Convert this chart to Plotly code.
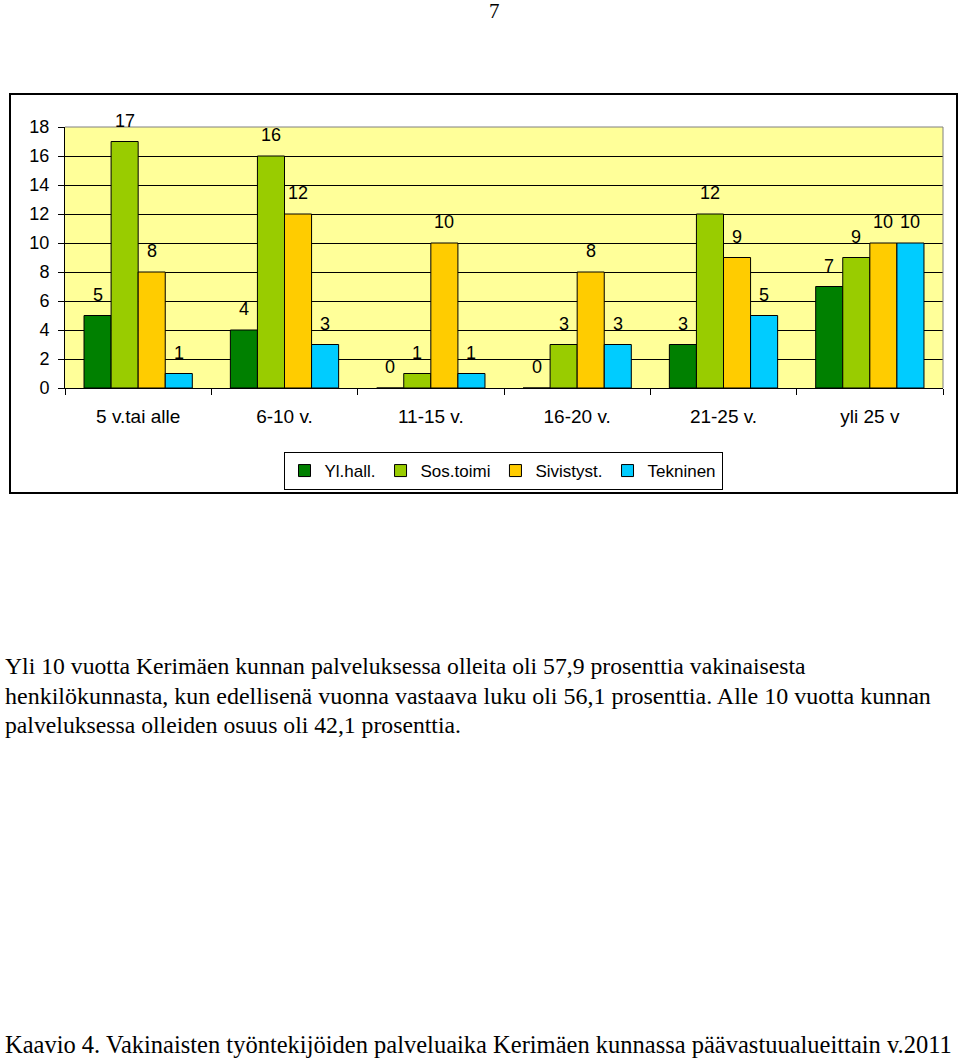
import plotly.graph_objects as go

# data
categories = ["5 v.tai alle", "6-10 v.", "11-15 v.", "16-20 v.", "21-25 v.", "yli 25 v"]
yl_hall = [5, 4, 0, 0, 3, 7]
sos_toimi = [17, 16, 1, 3, 12, 9]
sivistyst = [8, 12, 10, 8, 9, 10]
tekninen = [1, 3, 1, 3, 5, 10]

series_names = ["Yl.hall.", "Sos.toimi", "Sivistyst.", "Tekninen"]
series_values = [yl_hall, sos_toimi, sivistyst, tekninen]
series_colors = ["#008000", "#99CC00", "#FFCC00", "#00CCFF"]

paragraph = [
    "Yli 10 vuotta Kerimäen kunnan palveluksessa olleita oli 57,9 prosenttia vakinaisesta",
    "henkilökunnasta, kun edellisenä vuonna vastaava luku oli 56,1 prosenttia. Alle 10 vuotta kunnan",
    "palveluksessa olleiden osuus oli 42,1 prosenttia.",
]
caption = "Kaavio 4. Vakinaisten työntekijöiden palveluaika Kerimäen kunnassa päävastuualueittain v.2011"

# page geometry in pixels (body margin is removed below)
W, H = 960, 1058
L, R, T, B = 65, 943, 127, 388
BARGAP = 0.26


def px_x(x):
    return (x - L) / (R - L)


def px_y(y):
    return (B - y) / (B - T)


chart_font = "Liberation Sans, Arial, sans-serif"
text_font = "Liberation Serif, Times New Roman, serif"

fig = go.Figure()
for name, vals, col in zip(series_names, series_values, series_colors):
    fig.add_trace(go.Bar(
        name=name, x=categories, y=vals,
        marker=dict(color=col, line=dict(color="black", width=1)),
    ))

# value labels a bit above each bar (Excel style)
bar_w = (R - L) / len(categories) * (1 - BARGAP) / len(series_names)
for i, vals in enumerate(series_values):
    for cat, v in zip(categories, vals):
        fig.add_annotation(
            x=cat, y=v, xref="x", yref="y", text=str(v), showarrow=False,
            xshift=(i - (len(series_names) - 1) / 2) * bar_w, yshift=9,
            yanchor="bottom", font=dict(family=chart_font, size=18, color="black"),
        )

fig.update_layout(
    width=W, height=H,
    margin=dict(l=L, r=W - R, t=T, b=H - B),
    paper_bgcolor="white", plot_bgcolor="#FFFF99",
    barmode="group", bargap=BARGAP, bargroupgap=0,
    font=dict(family=chart_font, size=18, color="black"),
    showlegend=True,
    legend=dict(
        orientation="h", x=px_x(503), y=px_y(452), xanchor="center", yanchor="top",
        bordercolor="black", borderwidth=1, bgcolor="white",
        font=dict(family=chart_font, size=17, color="black"),
        itemwidth=30, traceorder="normal",
    ),
)

fig.update_yaxes(
    range=[0, 18], dtick=2, showgrid=True, gridcolor="black", gridwidth=1,
    zeroline=False, showline=True, linecolor="black", linewidth=1,
    ticks="outside", ticklen=6, tickcolor="black",
    tickfont=dict(family=chart_font, size=18), ticklabelstandoff=5,
)
fig.update_xaxes(
    showline=True, linecolor="black", linewidth=1,
    ticks="outside", tickson="boundaries", ticklen=6, tickcolor="black",
    tickfont=dict(family=chart_font, size=19), ticklabelstandoff=11,
)

# outer chart frame
fig.add_shape(type="rect", xref="paper", yref="paper",
              x0=px_x(10), x1=px_x(957), y0=px_y(493), y1=px_y(94),
              line=dict(color="black", width=2), layer="below")
# grey plot-area border on top and right
fig.add_shape(type="path", xref="paper", yref="paper",
              path="M 0 1 L 1 1 L 1 0", line=dict(color="#808080", width=1), layer="above")

# page number
fig.add_annotation(text="7", xref="paper", yref="paper", x=px_x(494), y=px_y(11),
                   xanchor="center", yanchor="middle",
                   showarrow=False, font=dict(family=text_font, size=21, color="black"))

# paragraph text
for i, line in enumerate(paragraph):
    fig.add_annotation(text=line, xref="paper", yref="paper",
                       x=px_x(3), y=px_y(666 + i * 29.5), xanchor="left", yanchor="middle",
                       showarrow=False, font=dict(family=text_font, size=24 if i == 1 else 23.7, color="black"))

fig.add_annotation(text=caption, xref="paper", yref="paper",
                   x=px_x(3), y=px_y(1044), xanchor="left", yanchor="middle",
                   showarrow=False, font=dict(family=text_font, size=24.5, color="black"))

fig.write_html("out.html", config={"displayModeBar": False},
               post_script="document.body.style.margin='0';")
